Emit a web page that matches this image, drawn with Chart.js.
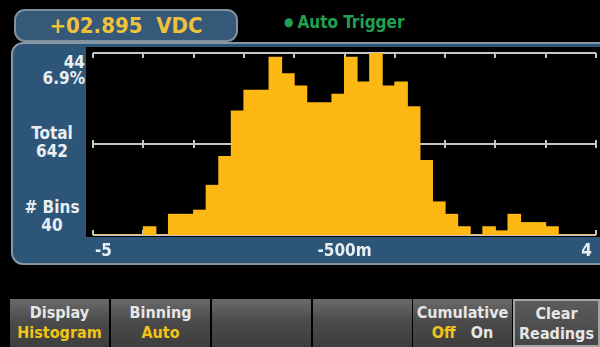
<!DOCTYPE html>
<html>
<head>
<meta charset="utf-8">
<script src="https://cdn.jsdelivr.net/npm/chart.js@4.4.1/dist/chart.umd.min.js"></script>
<style>
  html, body { margin: 0; padding: 0; background: #000; }
  body { width: 600px; height: 347px; overflow: hidden; position: relative;
         font-family: "DejaVu Sans Condensed", "Liberation Sans Narrow", sans-serif; font-weight: bold; }
  .abs { position: absolute; }
  #readout { left: 14px; top: 9px; width: 220px; height: 29px; border-radius: 11px;
             background: #36597a; border: 2px solid #7f909f; color: #efc23a;
             font-size: 22px; line-height: 29px; text-align: center; white-space: pre; }
  #trigger { left: 284px; top: 12px; color: #22a052; font-size: 17px; line-height: 20px; }
  #trigger span { font-size: 12px; vertical-align: 2px; margin-right: 4px; }
  #panel { left: 11px; top: 42px; width: 600px; height: 219px; border-radius: 12px;
           background: #2d5577; border: 2px solid #8796a3; }
  .side { color: #e9eef3; font-size: 17px; line-height: 17px; }
  #plotBox { left: 86px; top: 47px; width: 514px; height: 215px; }
  .key { top: 299px; height: 48px; width: 99px; text-align: center; font-size: 16px; line-height: 20px;
         background: linear-gradient(#6a6a6a, #4c4c4c 45%, #3d3d3d); color: #e6e6e6; box-sizing: border-box; padding-top: 4px; }
  .key .on { color: #f1c418; }
  #clear { box-shadow: inset 0 0 0 2px #a4a4a4; background: linear-gradient(#5c5c5c, #444); padding-top: 5px; }
</style>
</head>
<body>
<div id="readout" class="abs">+02.895  VDC</div>
<div id="trigger" class="abs"><span>&#9679;</span>Auto Trigger</div>
<div id="panel" class="abs"></div>

<div id="maxCount" class="abs side" style="left:40px; top:54px; width:45px; text-align:right;"></div>
<div id="maxPct" class="abs side" style="left:30px; top:70px; width:55px; text-align:right;"></div>
<div class="abs side" style="left:22px; top:125px; width:60px; text-align:center;">Total</div>
<div id="total" class="abs side" style="left:22px; top:143px; width:60px; text-align:center;"></div>
<div class="abs side" style="left:22px; top:199px; width:60px; text-align:center;"># Bins</div>
<div id="bins" class="abs side" style="left:22px; top:217px; width:60px; text-align:center;"></div>

<div id="plotBox" class="abs"><canvas id="histo" width="514" height="215"></canvas></div>

<div class="abs key" style="left:10px;">Display<br><span class="on">Histogram</span></div>
<div class="abs key" style="left:111px;">Binning<br><span class="on">Auto</span></div>
<div class="abs key" style="left:212px;"></div>
<div class="abs key" style="left:313px;"></div>
<div class="abs key" style="left:413px;">Cumulative<br><span class="on">Off</span>&nbsp;&nbsp; On</div>
<div id="clear" class="abs key" style="left:513px; width:87px;">Clear<br>Readings</div>

<script>
// histogram counts, 40 bins from -5 V to 4 V
const binCounts = [0, 0, 0, 0, 2, 0, 5, 5, 6, 12,
                   19, 30, 35, 35, 43, 39, 36, 32, 32, 34,
                   43, 37, 44, 36, 37, 31, 18, 8, 5, 2,
                   0, 2, 1, 5, 3, 3, 2, 0, 0, 0];
const binLabels = binCounts.map((c, i) => 'bin' + (i + 1));
const xTickLabels = ['-5', '-500m', '4'];
const yGridValues = [0, 22, 44];

const total = binCounts.reduce((a, b) => a + b, 0);
const peak = Math.max(...binCounts);
document.getElementById('maxCount').textContent = peak;
document.getElementById('maxPct').textContent = (peak / total * 100).toFixed(1) + '%';
document.getElementById('total').textContent = total;
document.getElementById('bins').textContent = binCounts.length;

const LINE = '#c4c6c8';
const FONT = 'bold 17px "DejaVu Sans Condensed", "Liberation Sans Narrow", sans-serif';

// black plot window, grid lines with tick marks, and the x labels underneath
const meterGrid = {
  id: 'meterGrid',
  beforeDraw(chart) {
    const { ctx, chartArea } = chart;
    ctx.save();
    ctx.fillStyle = '#000';
    ctx.fillRect(chartArea.left - 7, chartArea.top - 6, chartArea.width + 11, chartArea.height + 8);
    ctx.restore();
  },
  beforeDatasetsDraw(chart) {
    const { ctx } = chart;
    const x = chart.scales.x;
    const y = chart.scales.y;
    const binW = x.getPixelForValue(1) - x.getPixelForValue(0);
    ctx.save();
    ctx.strokeStyle = LINE;
    ctx.lineWidth = 2;
    yGridValues.forEach((v, k) => {
      const py = Math.round(y.getPixelForValue(v));
      ctx.beginPath();
      ctx.moveTo(x.left, py);
      ctx.lineTo(x.right, py);
      ctx.stroke();
      for (let i = 0; i <= binCounts.length; i += 4) {
        const px = Math.round(x.getPixelForValue(0) - binW / 2 + i * binW);
        const up = k === 0 ? 5 : (k === 1 ? 4 : 0);
        const down = k === 2 ? 5 : (k === 1 ? 4 : 0);
        ctx.beginPath();
        ctx.moveTo(px, py - up);
        ctx.lineTo(px, py + down);
        ctx.stroke();
      }
    });
    ctx.restore();
  },
  afterDraw(chart) {
    const { ctx } = chart;
    const x = chart.scales.x;
    const ty = x.bottom + 17;
    ctx.save();
    ctx.font = FONT;
    ctx.fillStyle = '#e9eef3';
    ctx.textBaseline = 'middle';
    ctx.textAlign = 'left';
    ctx.fillText(xTickLabels[0], x.left + 2, ty);
    ctx.textAlign = 'center';
    ctx.fillText(xTickLabels[1], (x.left + x.right) / 2, ty);
    ctx.textAlign = 'right';
    ctx.fillText(xTickLabels[2], x.right - 4, ty);
    ctx.restore();
  }
};

new Chart(document.getElementById('histo'), {
  type: 'bar',
  data: {
    labels: binLabels,
    datasets: [{
      data: binCounts,
      backgroundColor: '#fdb813',
      borderWidth: 0,
      barPercentage: 1,
      categoryPercentage: 1,
      inflateAmount: 0.5
    }]
  },
  options: {
    responsive: false,
    devicePixelRatio: 1,
    animation: false,
    layout: { padding: { left: 7, right: 4, top: 6, bottom: 27 } },
    plugins: {
      legend: { display: false },
      tooltip: { enabled: false }
    },
    scales: {
      x: { display: false },
      y: { display: false, min: 0, max: 44 }
    }
  },
  plugins: [meterGrid]
});
</script>
</body>
</html>
